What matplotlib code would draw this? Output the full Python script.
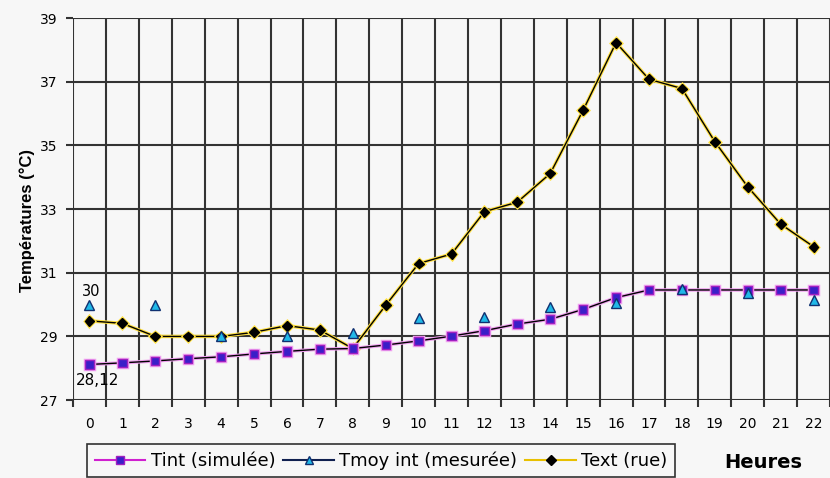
import numpy as np
import matplotlib.pyplot as plt
from matplotlib.lines import Line2D
import matplotlib.patheffects as pe

plt.rcParams['font.family'] = ['DejaVu Sans']

heures = list(range(23))
tint = [28.12, 28.17, 28.23, 28.30, 28.36, 28.45, 28.53, 28.60, 28.62, 28.73, 28.86, 29.01,
        29.18, 29.39, 29.54, 29.85, 30.22, 30.46, 30.46, 30.46, 30.46, 30.46, 30.46]
tmoy_h = [0, 2, 4, 6, 8, 10, 12, 14, 16, 18, 20, 22]
tmoy = [30.0, 30.0, 29.0, 29.0, 29.1, 29.57, 29.62, 29.94, 30.05, 30.48, 30.35, 30.14]
text = [29.49, 29.41, 29.0, 29.0, 29.0, 29.13, 29.34, 29.2, 28.62, 29.98, 31.29, 31.59,
        32.92, 33.22, 34.12, 36.11, 38.23, 37.08, 36.79, 35.12, 33.70, 32.53, 31.82]

fig = plt.figure(figsize=(8.3, 4.78), dpi=100)
fig.patch.set_facecolor('#f7f7f7')
ax = fig.add_axes([0.088, 0.163, 0.912, 0.799])
ax.set_facecolor('#f7f7f7')

ax.plot(heures, text, color='black', lw=1, marker='D', ms=5, mfc='black', mec='black', zorder=4,
        path_effects=[pe.Stroke(linewidth=2.5, foreground='#ffe040'), pe.Normal()])
ax.plot(heures, tint, color='black', lw=1, marker='s', ms=6, mfc='#3a1fc8', mec='#a020c0', zorder=5,
        path_effects=[pe.Stroke(linewidth=2.5, foreground='#f0a0f0'), pe.Normal()])
ax.plot(tmoy_h, tmoy, ls='none', marker='^', ms=6.5, mfc='#20b8e8', mec='#103070', zorder=6)

ax.annotate('30', (0, tmoy[0]), xytext=(1, 6), textcoords='offset points', ha='center', fontsize=10.5)
ax.annotate('28,12', (0, tint[0]), xytext=(6, -15), textcoords='offset points', ha='center', fontsize=11)

ax.set_xlim(-0.5, 22.5)
ax.set_ylim(27, 39)
ax.set_yticks(np.arange(27, 40, 2))
ax.set_xticks(heures)
ax.set_xticks(np.arange(-0.5, 23, 1), minor=True)
ax.tick_params(axis='x', which='major', length=0, pad=12, labelsize=10)
ax.tick_params(axis='x', which='minor', length=5, width=1.5, color='#333333')
ax.tick_params(axis='y', length=5, width=1.5, color='#333333', labelsize=10, pad=6)
ax.grid(True, which='minor', axis='x', color='#333333', lw=1.5)
ax.grid(True, which='major', axis='y', color='#333333', lw=1.5)
for s in ['top', 'right', 'left', 'bottom']:
    ax.spines[s].set_visible(False)
ax.set_axisbelow(True)

ax.set_ylabel('Températures (°C)', fontsize=12, fontweight='bold', family='Liberation Sans')
ax.yaxis.set_label_coords(-0.05, 0.47)

handles = [
    Line2D([], [], color='#d020d0', lw=1.5, marker='s', ms=6, mfc='#3a1fc8', mec='#a020c0'),
    Line2D([], [], color='#102050', lw=1.5, marker='^', ms=6, mfc='#20b8e8', mec='#103070'),
    Line2D([], [], color='#e8c000', lw=1.5, marker='D', ms=5, mfc='black', mec='black'),
]
leg = fig.legend(handles, ['Tint (simulée)', 'Tmoy int (mesurée)', 'Text (rue)'],
                 ncol=3, loc='lower left', bbox_to_anchor=(0.101, -0.006), fontsize=13,
                 frameon=True, fancybox=False, edgecolor='black', facecolor='#f7f7f7',
                 handlelength=2.8, columnspacing=0.45, handletextpad=0.3, borderpad=0.4,
                 borderaxespad=0.2)
leg.get_frame().set_linewidth(1.2)
fig.text(0.92, 0.033, 'Heures', fontsize=14, fontweight='bold', ha='center', va='center')

fig.savefig('out.png', dpi=100, facecolor=fig.get_facecolor())
